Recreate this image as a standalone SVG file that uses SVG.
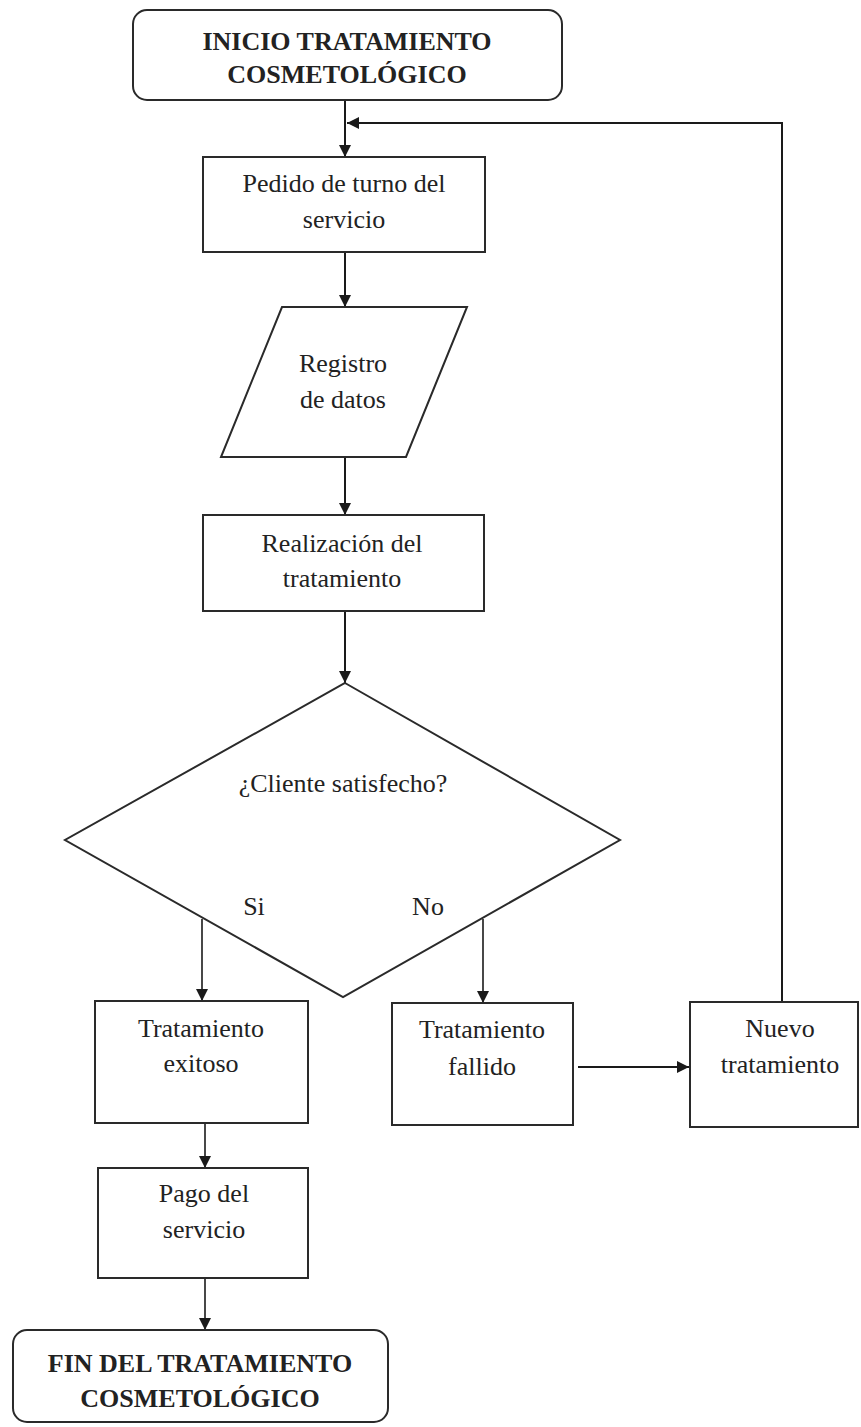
<svg xmlns="http://www.w3.org/2000/svg" width="861" height="1427" viewBox="0 0 861 1427">
<defs>
<marker id="ah" markerUnits="userSpaceOnUse" markerWidth="12" markerHeight="12" viewBox="0 0 12 12" refX="12" refY="6" orient="auto">
<path d="M0,0 L12,6 L0,12 z" fill="#1a1a1a"/>
</marker>
<style>
.shape{fill:#fff;stroke:#2a2a2a;stroke-width:2}
.t{font-family:"Liberation Serif","Times New Roman",serif;font-size:26px;fill:#222;text-anchor:middle}
.b{font-weight:bold;font-size:26px}
.c{fill:none;stroke:#1a1a1a;stroke-width:2}
.c2{fill:none;stroke:#1a1a1a;stroke-width:1.6}
</style>
</defs>
<rect width="861" height="1427" fill="#fff"/>
<g id="connectors">
<line class="c" x1="345" y1="100" x2="345" y2="157" marker-end="url(#ah)"/>
<polyline class="c" points="782,1002 782,123 347,123" marker-end="url(#ah)"/>
<line class="c" x1="345" y1="252" x2="345" y2="307" marker-end="url(#ah)"/>
<line class="c" x1="345" y1="457" x2="345" y2="515" marker-end="url(#ah)"/>
<line class="c" x1="345" y1="611" x2="345" y2="683" marker-end="url(#ah)"/>
<line class="c2" x1="202" y1="919" x2="202" y2="1001" marker-end="url(#ah)"/>
<line class="c2" x1="483" y1="919" x2="483" y2="1003" marker-end="url(#ah)"/>
<line class="c" x1="578" y1="1067" x2="689" y2="1067" marker-end="url(#ah)"/>
<line class="c2" x1="205" y1="1123" x2="205" y2="1168" marker-end="url(#ah)"/>
<line class="c2" x1="205" y1="1278" x2="205" y2="1330" marker-end="url(#ah)"/>
</g>
<g id="inicio">
<rect class="shape" x="133" y="10" width="429" height="90" rx="14"/>
<text class="t b" x="347" y="50">INICIO TRATAMIENTO</text>
<text class="t b" x="347" y="83">COSMETOLÓGICO</text>
</g>
<g id="pedido">
<rect class="shape" x="203" y="157" width="282" height="95"/>
<text class="t" x="344" y="192">Pedido de turno del</text>
<text class="t" x="344" y="228">servicio</text>
</g>
<g id="registro">
<polygon class="shape" points="282,307 467,307 406,457 221,457"/>
<text class="t" x="343" y="372">Registro</text>
<text class="t" x="343" y="408">de datos</text>
</g>
<g id="realizacion">
<rect class="shape" x="203" y="515" width="281" height="96"/>
<text class="t" x="342" y="552">Realización del</text>
<text class="t" x="342" y="587">tratamiento</text>
</g>
<g id="decision">
<polygon class="shape" points="345,683 620,840 343,997 65,840"/>
<text class="t" x="343" y="792">¿Cliente satisfecho?</text>
<text class="t" x="254" y="915">Si</text>
<text class="t" x="428" y="915">No</text>
</g>
<g id="exitoso">
<rect class="shape" x="95" y="1001" width="213" height="122"/>
<text class="t" x="201" y="1037">Tratamiento</text>
<text class="t" x="201" y="1072">exitoso</text>
</g>
<g id="fallido">
<rect class="shape" x="392" y="1003" width="181" height="122"/>
<text class="t" x="482" y="1038">Tratamiento</text>
<text class="t" x="482" y="1075">fallido</text>
</g>
<g id="nuevo">
<rect class="shape" x="690" y="1002" width="168" height="125"/>
<text class="t" x="780" y="1037">Nuevo</text>
<text class="t" x="780" y="1073">tratamiento</text>
</g>
<g id="pago">
<rect class="shape" x="98" y="1168" width="210" height="110"/>
<text class="t" x="204" y="1202">Pago del</text>
<text class="t" x="204" y="1238">servicio</text>
</g>
<g id="fin">
<rect class="shape" x="13" y="1330" width="375" height="92" rx="14"/>
<text class="t b" x="200" y="1372">FIN DEL TRATAMIENTO</text>
<text class="t b" x="200" y="1407">COSMETOLÓGICO</text>
</g>
</svg>
